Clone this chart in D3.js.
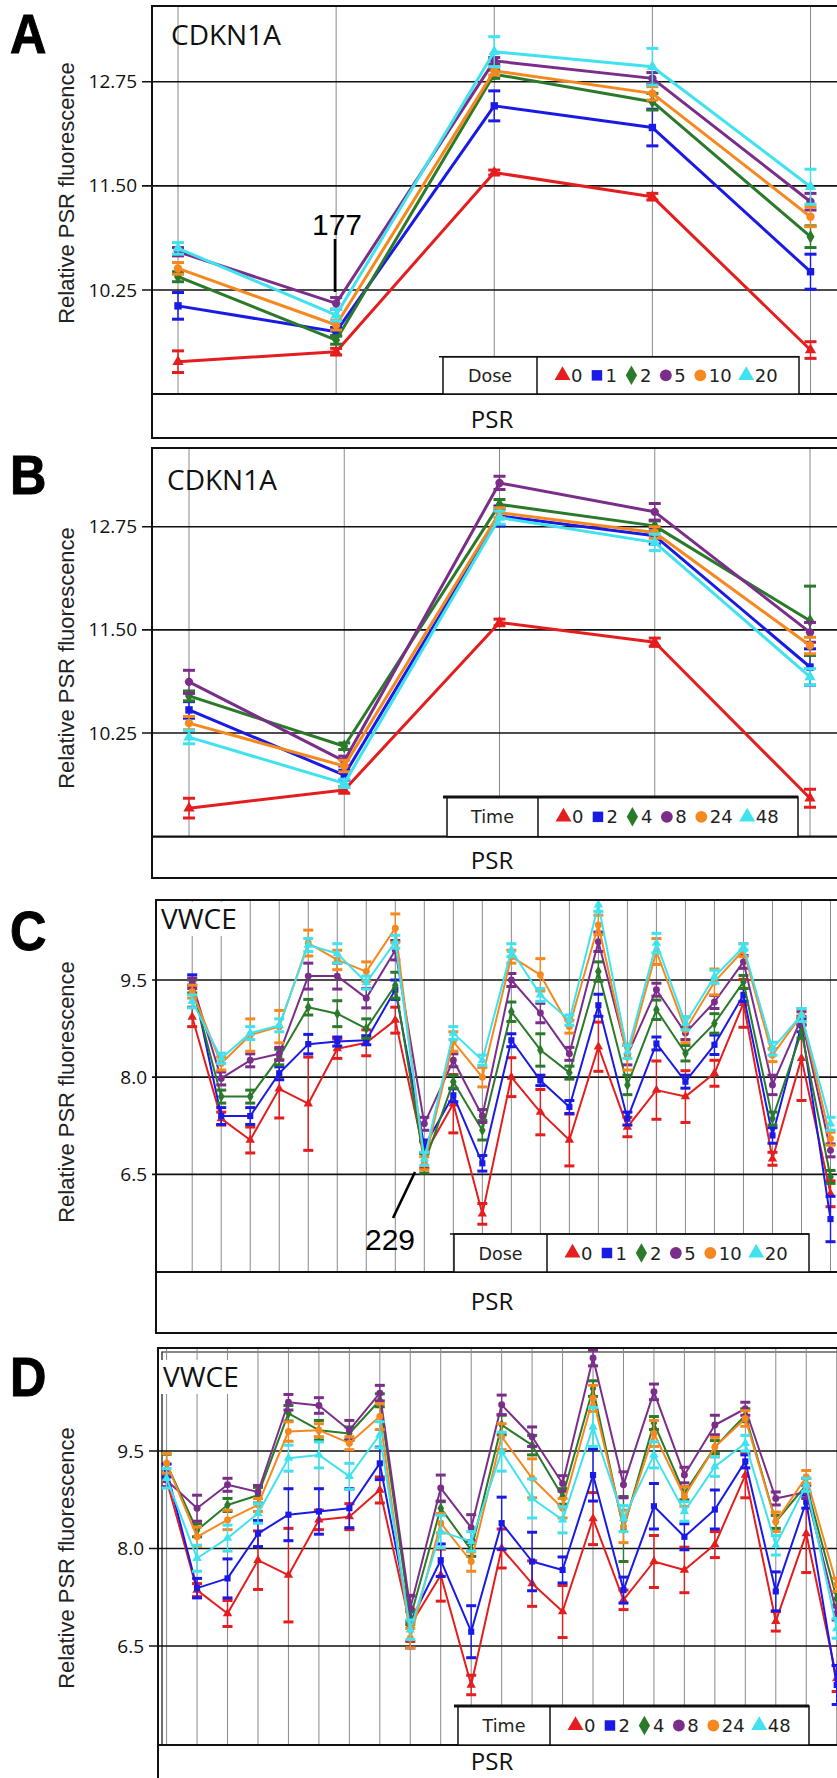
<!DOCTYPE html>
<html><head><meta charset="utf-8">
<script src="https://cdn.jsdelivr.net/npm/d3@7"></script>
<style>body{margin:0;background:#fff}svg{display:block}</style>
</head><body>
<svg id="fig" width="837" height="1778"></svg>
<script>
// ---------- categories (PSR positions along the gene) ----------
const psrCDKN1A = ["1","2","3","4","5"];
const psrVWCE = ["1","2","3","4","5","6","7","8","9","10","11","12","13","14","15","16","17","18","19","20","21","22","23"];

// ---------- legend labels ----------
const doseLabels = ["0","1","2","5","10","20"];
const timeLabels = ["0","2","4","8","24","48"];

// ---------- tick values ----------
const ticksCDKN1A = [10.25, 11.50, 12.75];
const ticksVWCE = [6.5, 8.0, 9.5];

// ---------- A: CDKN1A, dose series (mean) ----------
const doseA_0  = [9.39, 9.51, 11.66, 11.37, 9.53];
const doseA_1  = [10.06, 9.75, 12.46, 12.20, 10.47];
const doseA_2  = [10.41, 9.65, 12.84, 12.51, 10.89];
const doseA_5  = [10.71, 10.09, 13.00, 12.79, 11.31];
const doseA_10 = [10.51, 9.83, 12.88, 12.61, 11.13];
const doseA_20 = [10.75, 9.95, 13.11, 12.93, 11.49];
// error half-widths
const errA_0  = [0.13, 0.04, 0.03, 0.04, 0.10];
const errA_1  = [0.16, 0.05, 0.18, 0.22, 0.21];
const errA_2  = [0.06, 0.05, 0.05, 0.10, 0.13];
const errA_5  = [0.05, 0.07, 0.04, 0.07, 0.10];
const errA_10 = [0.07, 0.06, 0.05, 0.08, 0.12];
const errA_20 = [0.07, 0.07, 0.18, 0.22, 0.21];

// ---------- B: CDKN1A, time series ----------
const timeB_0  = [9.34, 9.56, 11.59, 11.35, 9.46];
const timeB_2  = [10.53, 9.74, 12.88, 12.64, 11.05];
const timeB_4  = [10.70, 10.09, 13.02, 12.76, 11.61];
const timeB_8  = [10.87, 9.91, 13.28, 12.93, 11.47];
const timeB_24 = [10.37, 9.85, 12.92, 12.68, 11.31];
const timeB_48 = [10.20, 9.64, 12.86, 12.56, 10.93];
const errB_0  = [0.12, 0.04, 0.04, 0.05, 0.11];
const errB_2  = [0.10, 0.06, 0.12, 0.10, 0.22];
const errB_4  = [0.06, 0.04, 0.06, 0.06, 0.42];
const errB_8  = [0.14, 0.06, 0.08, 0.10, 0.12];
const errB_24 = [0.08, 0.07, 0.06, 0.07, 0.10];
const errB_48 = [0.08, 0.05, 0.08, 0.10, 0.10];

// ---------- C: VWCE, dose series ----------
const doseC_0  = [8.93,7.36,7.03,7.82,7.59,8.44,8.53,8.88,6.80,7.59,5.89,8.00,7.46,7.03,8.47,7.23,7.80,7.70,8.06,9.14,6.74,8.29,6.20];
const doseC_1  = [9.50,7.40,7.40,8.06,8.51,8.55,8.57,9.35,6.93,7.72,6.67,8.57,7.95,7.54,9.11,7.36,8.52,7.93,8.50,9.27,7.10,8.80,5.81];
const doseC_2  = [9.40,7.70,7.70,8.31,9.08,8.98,8.75,9.42,6.67,7.93,7.18,9.01,8.42,8.07,9.63,7.88,9.04,8.37,8.83,9.47,7.36,8.70,6.46];
const doseC_5  = [9.45,7.98,8.26,8.36,9.56,9.56,9.22,9.96,7.28,8.26,7.40,9.50,8.99,8.36,10.09,8.34,9.35,8.68,9.16,9.78,7.88,8.91,6.87];
const doseC_10 = [9.32,8.21,8.65,8.78,10.07,9.81,9.63,10.30,6.67,8.55,8.00,9.86,9.58,8.78,10.35,8.31,9.94,8.73,9.47,9.96,8.34,8.96,7.05];
const doseC_20 = [9.17,8.29,8.68,8.80,10.04,9.91,9.46,10.09,6.74,8.68,8.26,9.96,9.27,8.88,10.66,8.39,10.07,8.83,9.55,10.01,8.44,8.96,7.28];
const errC_0  = [0.15,0.10,0.20,0.45,0.72,0.15,0.20,0.20,0.20,0.45,0.16,0.30,0.35,0.40,0.38,0.15,0.45,0.40,0.20,0.37,0.10,0.65,0.20];
const errC_1  = [0.08,0.13,0.13,0.10,0.15,0.07,0.07,0.15,0.10,0.10,0.12,0.10,0.08,0.10,0.17,0.10,0.10,0.10,0.15,0.10,0.12,0.10,0.35];
const errC_2  = [0.10,0.10,0.10,0.12,0.12,0.20,0.15,0.20,0.15,0.10,0.15,0.15,0.25,0.10,0.15,0.15,0.15,0.12,0.15,0.10,0.10,0.10,0.10];
const errC_5  = [0.08,0.10,0.10,0.10,0.20,0.20,0.15,0.15,0.10,0.10,0.10,0.10,0.15,0.10,0.15,0.15,0.10,0.10,0.10,0.10,0.15,0.10,0.10];
const errC_10 = [0.10,0.10,0.25,0.25,0.20,0.15,0.15,0.22,0.10,0.15,0.15,0.10,0.25,0.10,0.15,0.20,0.20,0.20,0.20,0.10,0.10,0.10,0.10];
const errC_20 = [0.10,0.08,0.10,0.10,0.10,0.15,0.10,0.10,0.10,0.10,0.08,0.10,0.10,0.08,0.10,0.10,0.15,0.10,0.10,0.05,0.10,0.10,0.10];

// ---------- D: VWCE, time series ----------
const timeD_0  = [9.05,7.36,7.00,7.82,7.59,8.44,8.49,8.90,6.82,7.59,5.90,8.00,7.46,7.03,8.46,7.21,7.80,7.67,8.06,9.13,6.88,8.23,6.00];
const timeD_2  = [9.20,7.39,7.54,8.23,8.52,8.57,8.62,9.31,6.87,7.82,6.72,8.39,7.80,7.67,9.13,7.36,8.65,8.18,8.60,9.34,7.34,8.72,5.90];
const timeD_4  = [9.30,8.28,8.67,8.82,10.08,9.82,9.77,10.28,6.93,8.62,7.98,9.90,9.59,8.80,10.46,8.30,9.93,8.85,9.56,10.05,8.41,8.98,7.23];
const timeD_8  = [9.05,8.62,8.98,8.87,10.25,10.20,9.82,10.39,7.08,8.93,8.32,10.21,9.72,9.00,10.93,8.98,10.41,9.13,9.90,10.15,8.77,8.87,7.00];
const timeD_24 = [9.31,8.18,8.44,8.67,9.80,9.82,9.62,10.03,6.62,8.39,7.80,9.72,9.08,8.62,10.31,8.34,9.77,8.80,9.56,10.00,8.41,9.10,7.44];
const timeD_48 = [9.08,7.85,8.16,8.54,9.39,9.44,9.11,9.75,6.75,8.26,8.11,9.49,8.77,8.44,9.87,8.46,9.44,8.57,9.26,9.62,8.05,8.98,6.77];
const errD_0  = [0.10,0.10,0.20,0.45,0.72,0.15,0.20,0.20,0.25,0.40,0.15,0.30,0.35,0.40,0.40,0.15,0.40,0.35,0.20,0.35,0.15,0.60,0.20];
const errD_2  = [0.10,0.15,0.30,0.20,0.40,0.35,0.30,0.25,0.40,0.25,0.40,0.40,0.45,0.20,0.40,0.20,0.35,0.20,0.30,0.10,0.30,0.10,0.30];
const errD_4  = [0.15,0.10,0.10,0.12,0.12,0.15,0.10,0.10,0.10,0.10,0.10,0.15,0.15,0.12,0.12,0.50,0.10,0.10,0.10,0.10,0.10,0.10,0.10];
const errD_8  = [0.10,0.20,0.10,0.10,0.12,0.12,0.15,0.12,0.20,0.20,0.20,0.15,0.15,0.12,0.12,0.20,0.12,0.12,0.15,0.10,0.10,0.10,0.10];
const errD_24 = [0.15,0.15,0.15,0.10,0.15,0.10,0.10,0.20,0.15,0.15,0.15,0.20,0.30,0.15,0.20,0.25,0.20,0.15,0.15,0.12,0.15,0.10,0.10];
const errD_48 = [0.15,0.20,0.20,0.15,0.20,0.20,0.20,0.20,0.15,0.25,0.15,0.30,0.30,0.20,0.30,0.20,0.20,0.15,0.15,0.12,0.15,0.10,0.15];

// ---------- series styling ----------
const seriesColors = ["#e41e1e", "#1a1ae6", "#2b7a2b", "#7a2e8a", "#f5891f", "#3fe2ee"];
const seriesShapes = [d3.symbolTriangle, d3.symbolSquare, d3.symbolDiamond, d3.symbolCircle, d3.symbolCircle, d3.symbolTriangle];

const svg = d3.select("#fig");
const RIGHT = 845;

function makeSeries(vals, errs) {
  return vals.map((v, i) => ({ values: v, errors: errs[i], color: seriesColors[i], shape: seriesShapes[i] }));
}

const panels = [
  {
    id: "A", letterY: 53, gene: "CDKN1A", geneX: 171, geneY: 45, geneBg: false,
    left: 152, top: 6, bottom: 438, divider: 394, tickRight: 137,
    categories: psrCDKN1A, xRange: [178, 810.5],
    yDomain: [9, 12.75], yRange: [394.2, 81.7], ticks: ticksCDKN1A, fmt: ".2f",
    series: makeSeries([doseA_0, doseA_1, doseA_2, doseA_5, doseA_10, doseA_20],
                       [errA_0, errA_1, errA_2, errA_5, errA_10, errA_20]),
    lineW: 3, markSize: 55, capW: 6,
    legendTitle: "Dose", legendLabels: doseLabels, legend: [443, 356.7, 799], legendSep: 537, legendTopW: 1.5,
    titleY: 193, psrY: 428,
    note: { text: "177", tx: 337, ty: 235, x1: 335, y1: 239, x2: 335, y2: 292 }
  },
  {
    id: "B", letterY: 494, gene: "CDKN1A", geneX: 167, geneY: 490, geneBg: false,
    left: 152, top: 448, bottom: 878, divider: 836.7, tickRight: 137,
    categories: psrCDKN1A, xRange: [189, 810],
    yDomain: [9, 12.75], yRange: [836.2, 526.7], ticks: ticksCDKN1A, fmt: ".2f",
    series: makeSeries([timeB_0, timeB_2, timeB_4, timeB_8, timeB_24, timeB_48],
                       [errB_0, errB_2, errB_4, errB_8, errB_24, errB_48]),
    lineW: 3, markSize: 55, capW: 6,
    legendTitle: "Time", legendLabels: timeLabels, legend: [447, 797, 798], legendSep: 538, legendTopW: 3,
    titleY: 658, psrY: 869
  },
  {
    id: "C", letterY: 950, gene: "VWCE", geneX: 161, geneY: 929, geneBg: true,
    left: 156, top: 900, bottom: 1333, divider: 1272, tickRight: 147,
    categories: psrVWCE, xRange: [192.2, 830.5],
    yDomain: [5, 9.5], yRange: [1271.5, 980], ticks: ticksVWCE, fmt: ".1f",
    series: makeSeries([doseC_0, doseC_1, doseC_2, doseC_5, doseC_10, doseC_20],
                       [errC_0, errC_1, errC_2, errC_5, errC_10, errC_20]),
    lineW: 2, markSize: 38, capW: 5,
    legendTitle: "Dose", legendLabels: doseLabels, legend: [454, 1234, 809], legendSep: 547, legendTopW: 1.5,
    titleY: 1092, psrY: 1310,
    note: { text: "229", tx: 390, ty: 1250, x1: 415, y1: 1172, x2: 393, y2: 1218 }
  },
  {
    id: "D", letterY: 1396, gene: "VWCE", geneX: 163, geneY: 1387, geneBg: true,
    left: 158, top: 1348, bottom: 1800, divider: 1745, tickRight: 144, doubleFrame: true,
    categories: psrVWCE, xRange: [166.6, 836.7],
    yDomain: [5, 9.5], yRange: [1743.5, 1451], ticks: ticksVWCE, fmt: ".1f",
    series: makeSeries([timeD_0, timeD_2, timeD_4, timeD_8, timeD_24, timeD_48],
                       [errD_0, errD_2, errD_4, errD_8, errD_24, errD_48]),
    lineW: 2, markSize: 38, capW: 5,
    legendTitle: "Time", legendLabels: timeLabels, legend: [458, 1706, 809], legendSep: 550, legendTopW: 3,
    titleY: 1558, psrY: 1770
  }
];

panels.forEach(drawPanel);

function drawPanel(p) {
  const g = svg.append("g").attr("class", "panel-" + p.id);
  const x = d3.scalePoint().domain(p.categories).range(p.xRange);
  const y = d3.scaleLinear().domain(p.yDomain).range(p.yRange);

  // panel letter
  g.append("text")
    .attr("transform", `translate(10,${p.letterY}) scale(0.9,1)`)
    .attr("font-family", "Liberation Sans, Arial, sans-serif")
    .attr("font-weight", "bold").attr("font-size", 56).attr("fill", "#000")
    .attr("stroke", "#000").attr("stroke-width", 1)
    .text(p.id);

  // outer frame
  g.append("rect")
    .attr("x", p.left).attr("y", p.top)
    .attr("width", RIGHT - p.left).attr("height", p.bottom - p.top)
    .attr("fill", "#fff").attr("stroke", "#111").attr("stroke-width", 2);
  if (p.doubleFrame) {
    g.append("path")
      .attr("d", `M${p.left + 4},${p.divider}V${p.top + 4}H${RIGHT}`)
      .attr("fill", "none").attr("stroke", "#111").attr("stroke-width", 1.2);
  }

  // vertical grid at each PSR
  g.append("g").selectAll("line").data(p.categories).join("line")
    .attr("x1", d => x(d)).attr("x2", d => x(d))
    .attr("y1", p.top + 1).attr("y2", p.divider)
    .attr("stroke", "#8a8a8a").attr("stroke-width", 1);

  // horizontal grid + ticks
  g.append("g").selectAll("line").data(p.ticks).join("line")
    .attr("x1", p.tickRight + 5).attr("x2", RIGHT)
    .attr("y1", d => y(d)).attr("y2", d => y(d))
    .attr("stroke", "#111").attr("stroke-width", 1.6);
  g.append("g").selectAll("text").data(p.ticks).join("text")
    .attr("x", p.tickRight).attr("y", d => y(d) + 6.5)
    .attr("text-anchor", "end")
    .attr("font-family", "Open Sans, sans-serif").attr("font-size", 19).attr("fill", "#111")
    .text(d => d3.format(p.fmt)(d));

  // divider above the PSR axis label
  g.append("line")
    .attr("x1", p.left).attr("x2", RIGHT).attr("y1", p.divider).attr("y2", p.divider)
    .attr("stroke", "#111").attr("stroke-width", 2.2);

  // axis titles
  g.append("text")
    .attr("transform", `translate(74,${p.titleY}) rotate(-90)`)
    .attr("text-anchor", "middle")
    .attr("font-family", "Liberation Sans, Arial, sans-serif").attr("font-size", 22).attr("fill", "#222")
    .text("Relative PSR fluorescence");
  g.append("text")
    .attr("x", 492).attr("y", p.psrY).attr("text-anchor", "middle")
    .attr("font-family", "Open Sans, sans-serif").attr("font-size", 24).attr("fill", "#111")
    .text("PSR");

  // plotting area clip
  const clipId = "clip-" + p.id;
  g.append("clipPath").attr("id", clipId).append("rect")
    .attr("x", p.left + 1).attr("y", p.top + 1)
    .attr("width", RIGHT - p.left).attr("height", p.divider - p.top - 1);
  const plot = g.append("g").attr("clip-path", `url(#${clipId})`);

  const line = d3.line().x((d, i) => x(p.categories[i])).y(d => y(d));

  p.series.forEach(s => {
    const sg = plot.append("g");
    const pts = s.values.map((v, i) => ({ cx: x(p.categories[i]), v, e: s.errors[i] }));
    // error bars
    const eb = sg.append("g").attr("stroke", s.color);
    eb.selectAll(".stem").data(pts).join("line")
      .attr("x1", d => d.cx).attr("x2", d => d.cx)
      .attr("y1", d => y(d.v - d.e)).attr("y2", d => y(d.v + d.e))
      .attr("stroke-width", 1.4);
    eb.selectAll(".capHi").data(pts).join("line")
      .attr("x1", d => d.cx - p.capW).attr("x2", d => d.cx + p.capW)
      .attr("y1", d => y(d.v + d.e)).attr("y2", d => y(d.v + d.e))
      .attr("stroke-width", 3);
    eb.selectAll(".capLo").data(pts).join("line")
      .attr("x1", d => d.cx - p.capW).attr("x2", d => d.cx + p.capW)
      .attr("y1", d => y(d.v - d.e)).attr("y2", d => y(d.v - d.e))
      .attr("stroke-width", 3);
    // connecting line
    sg.append("path").attr("d", line(s.values))
      .attr("fill", "none").attr("stroke", s.color).attr("stroke-width", p.lineW)
      .attr("stroke-linejoin", "round");
    // markers
    sg.selectAll("path.m").data(pts).join("path")
      .attr("class", "m")
      .attr("transform", d => `translate(${d.cx},${y(d.v)})`)
      .attr("d", d3.symbol(s.shape, p.markSize))
      .attr("fill", s.color);
  });

  // gene label
  if (p.geneBg) {
    g.append("rect").attr("x", p.geneX - 2).attr("y", p.geneY - 27)
      .attr("width", 86).attr("height", 34).attr("fill", "#fff");
  }
  g.append("text")
    .attr("x", p.geneX).attr("y", p.geneY)
    .attr("font-family", "Open Sans, sans-serif").attr("font-size", 28).attr("fill", "#111")
    .text(p.gene);

  // annotation of a single PSR
  if (p.note) {
    g.append("line")
      .attr("x1", p.note.x1).attr("y1", p.note.y1).attr("x2", p.note.x2).attr("y2", p.note.y2)
      .attr("stroke", "#000").attr("stroke-width", 2.6);
    g.append("text")
      .attr("x", p.note.tx).attr("y", p.note.ty).attr("text-anchor", "middle")
      .attr("font-family", "Liberation Sans, Arial, sans-serif").attr("font-size", 30).attr("fill", "#000")
      .text(p.note.text);
  }

  // legend
  const [lx0, ly0, lx1] = p.legend;
  const lg = g.append("g");
  lg.append("rect").attr("x", lx0).attr("y", ly0)
    .attr("width", lx1 - lx0).attr("height", p.divider - ly0)
    .attr("fill", "#fff").attr("stroke", "#111").attr("stroke-width", 1.5);
  lg.append("line").attr("x1", lx0 - 4).attr("x2", lx1).attr("y1", ly0).attr("y2", ly0)
    .attr("stroke", "#111").attr("stroke-width", p.legendTopW);
  lg.append("line").attr("x1", p.legendSep).attr("x2", p.legendSep)
    .attr("y1", ly0).attr("y2", p.divider).attr("stroke", "#111").attr("stroke-width", 1.5);
  const ty = (ly0 + p.divider) / 2 + 6.5;
  lg.append("text").attr("x", (lx0 + p.legendSep) / 2).attr("y", ty)
    .attr("text-anchor", "middle")
    .attr("font-family", "DejaVu Sans, sans-serif").attr("font-size", 17.5).attr("fill", "#222")
    .text(p.legendTitle);
  let cursor = p.legendSep + 19;
  p.legendLabels.forEach((lab, i) => {
    lg.append("path")
      .attr("transform", `translate(${cursor + 6.5},${ty - 6.5})`)
      .attr("d", d3.symbol(seriesShapes[i], 110))
      .attr("fill", seriesColors[i]);
    const t = lg.append("text").attr("x", cursor + 15).attr("y", ty)
      .attr("font-family", "DejaVu Sans, sans-serif").attr("font-size", 18).attr("fill", "#222")
      .text(lab);
    cursor = cursor + 15 + t.node().getComputedTextLength() + 8;
  });
}
</script>
</body></html>
